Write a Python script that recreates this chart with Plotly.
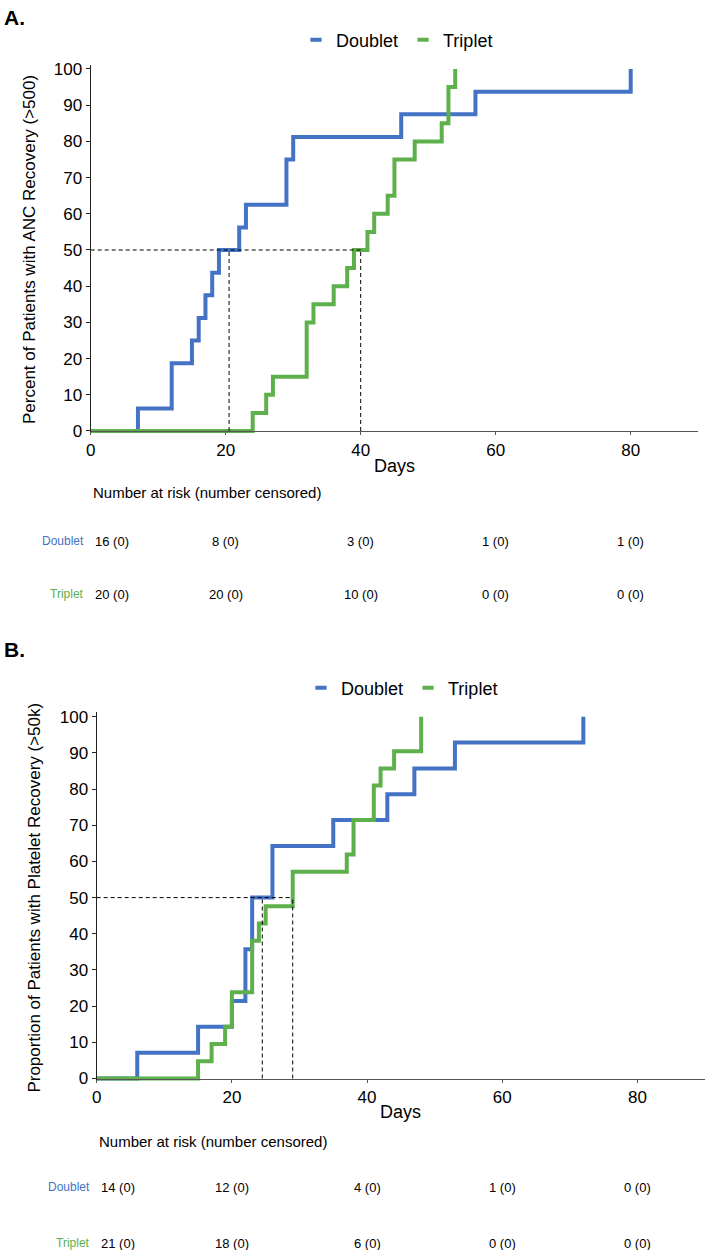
import plotly.graph_objects as go

# ---------------- data ----------------
groups = ["Doublet", "Triplet"]
colors = {"Doublet": "#4472C4", "Triplet": "#5DB04C"}

# Panel A: ANC recovery (cumulative % recovered)
a_doublet_days = [0, 7, 12, 15, 16, 17, 18, 19, 22, 23, 29, 30, 46, 57, 80]
a_doublet_pct = [0, 6.25, 18.75, 25, 31.25, 37.5, 43.75, 50, 56.25, 62.5, 75, 81.25, 87.5, 93.75, 100]
a_triplet_days = [0, 24, 26, 27, 32, 33, 36, 38, 39, 41, 42, 44, 45, 48, 52, 53, 54]
a_triplet_pct = [0, 5, 10, 15, 30, 35, 40, 45, 50, 55, 60, 65, 75, 80, 85, 95, 100]
a_medians = [20.5, 40]

# Panel B: platelet recovery
b_doublet_days = [0, 6, 15, 20, 22, 23, 26, 35, 43, 47, 53, 72]
b_doublet_pct = [0, 7.14, 14.29, 21.43, 35.71, 50, 64.29, 71.43, 78.57, 85.71, 92.86, 100]
b_triplet_days = [0, 15, 17, 19, 20, 23, 24, 25, 29, 37, 38, 41, 42, 44, 48]
b_triplet_pct = [0, 4.76, 9.52, 14.29, 23.81, 38.10, 42.86, 47.62, 57.14, 61.90, 71.43, 80.95, 85.71, 90.48, 100]
b_medians = [24.5, 29]

risk_times = [0, 20, 40, 60, 80]
a_risk_doublet = ["16 (0)", "8 (0)", "3 (0)", "1 (0)", "1 (0)"]
a_risk_triplet = ["20 (0)", "20 (0)", "10 (0)", "0 (0)", "0 (0)"]
b_risk_doublet = ["14 (0)", "12 (0)", "4 (0)", "1 (0)", "0 (0)"]
b_risk_triplet = ["21 (0)", "18 (0)", "6 (0)", "0 (0)", "0 (0)"]

x_ticks = [0, 20, 40, 60, 80]
y_ticks = list(range(0, 101, 10))

# ---------------- layout geometry (pixels) ----------------
W, H = 705, 1250
FONT = "Liberation Sans, Arial, Helvetica, sans-serif"


def py(px):
    return 1 - px / H


YLO, YHI = -1.2, 101.2


def ydomain(px0, px100):
    unit = (px0 - px100) / 100.0
    return [py(px0 - YLO * unit), py(px100 - (YHI - 100) * unit)]


panels = [
    dict(x0=90.7, x1=698.2, px0=431.0, px100=69.0, days_y=466, risk_title_y=493,
         row_y={"Doublet": 541, "Triplet": 594}, label="A.", label_y=18,
         ytitle="Percent of Patients with ANC Recovery (>500)", ytitle_x=30,
         legend_x=397, legend_y=40,
         curves={"Doublet": (a_doublet_days, a_doublet_pct), "Triplet": (a_triplet_days, a_triplet_pct)},
         medians=a_medians,
         risk={"Doublet": a_risk_doublet, "Triplet": a_risk_triplet}, rowlab_x=86),
    dict(x0=96.7, x1=705.0, px0=1078.5, px100=716.7, days_y=1112, risk_title_y=1141,
         row_y={"Doublet": 1187, "Triplet": 1243}, label="B.", label_y=649,
         ytitle="Proportion of Patients with Platelet Recovery (>50k)", ytitle_x=35,
         legend_x=402, legend_y=688,
         curves={"Doublet": (b_doublet_days, b_doublet_pct), "Triplet": (b_triplet_days, b_triplet_pct)},
         medians=b_medians,
         risk={"Doublet": b_risk_doublet, "Triplet": b_risk_triplet}, rowlab_x=92),
]

fig = go.Figure()
annotations = []
layout_axes = {}
DASH = "4px,3px"

for i, p in enumerate(panels):
    sfx = "" if i == 0 else str(i + 1)
    xa, ya = "x" + sfx, "y" + sfx
    leg = "legend" + sfx

    # step curves
    for g in groups:
        days, pct = p["curves"][g]
        fig.add_trace(go.Scatter(
            x=days, y=pct, mode="lines", line=dict(shape="hv", color=colors[g], width=4),
            name=g, xaxis=xa, yaxis=ya, showlegend=False, hoverinfo="skip"))

    # legend keys (short thick dashes)
    for g in groups:
        fig.add_trace(go.Scatter(
            x=[None], y=[None], mode="markers", name=g,
            marker=dict(symbol="line-ew", size=8, color=colors[g],
                        line=dict(color=colors[g], width=4)),
            xaxis=xa, yaxis=ya, legend=leg, showlegend=True, hoverinfo="skip"))

    # median reference lines
    med = p["medians"]
    fig.add_trace(go.Scatter(
        x=[0, max(med)], y=[50, 50], mode="lines",
        line=dict(color="black", width=1, dash=DASH),
        xaxis=xa, yaxis=ya, showlegend=False, hoverinfo="skip"))
    for m in med:
        fig.add_trace(go.Scatter(
            x=[m, m], y=[0, 50], mode="lines",
            line=dict(color="black", width=1, dash=DASH),
            xaxis=xa, yaxis=ya, showlegend=False, hoverinfo="skip"))

    layout_axes["xaxis" + sfx] = dict(
        domain=[p["x0"] / W, p["x1"] / W], range=[0, 90], tickvals=x_ticks,
        ticks="outside", ticklen=3, tickcolor="#555", showline=True, linecolor="#555",
        linewidth=1.2, showgrid=False, zeroline=False, anchor="free", position=py(p["px0"]),
        automargin=False,
        tickfont=dict(size=17, color="black", family=FONT), fixedrange=True)
    layout_axes["yaxis" + sfx] = dict(
        domain=ydomain(p["px0"], p["px100"]), range=[YLO, YHI], tickvals=y_ticks,
        ticks="outside", ticklen=4, tickcolor="#222", showline=True, linecolor="#222",
        linewidth=1.2, showgrid=False, zeroline=False, anchor=xa, automargin=False,
        tickfont=dict(size=17, color="black", family=FONT), fixedrange=True)
    layout_axes[leg] = dict(
        orientation="h", x=p["legend_x"] / W, xanchor="center", y=py(p["legend_y"]),
        yanchor="middle", font=dict(size=18, color="black", family=FONT),
        bgcolor="rgba(0,0,0,0)", itemwidth=30, tracegroupgap=0, itemsizing="trace")

    # panel label
    annotations.append(dict(text="<b>" + p["label"] + "</b>", x=2 / W, y=py(p["label_y"]),
                            xref="paper", yref="paper", xanchor="left", yanchor="middle",
                            showarrow=False, font=dict(size=21, color="black", family=FONT)))
    # y title
    annotations.append(dict(text=p["ytitle"], x=p["ytitle_x"] / W,
                            y=py((p["px0"] + p["px100"]) / 2), xref="paper", yref="paper",
                            textangle=-90, xanchor="center", yanchor="middle", showarrow=False,
                            font=dict(size=17, color="black", family=FONT)))
    # x title
    annotations.append(dict(text="Days", x=45, y=py(p["days_y"]), xref=xa, yref="paper",
                            xanchor="center", yanchor="middle", showarrow=False,
                            font=dict(size=18, color="black", family=FONT)))
    # risk table title
    annotations.append(dict(text="Number at risk (number censored)", x=0, y=py(p["risk_title_y"]),
                            xref=xa, yref="paper", xanchor="left", yanchor="middle",
                            showarrow=False, font=dict(size=15, color="black", family=FONT)))
    for g in groups:
        yy = py(p["row_y"][g])
        annotations.append(dict(text=g, x=p["rowlab_x"] / W, y=yy, xref="paper", yref="paper",
                                xanchor="right", yanchor="middle", showarrow=False,
                                font=dict(size=12, color=colors[g], family=FONT)))
        for t, txt in zip(risk_times, p["risk"][g]):
            annotations.append(dict(text=txt, x=t + (0.4 if t == 0 else 0), y=yy, xref=xa, yref="paper",
                                    xanchor="left" if t == 0 else "center", yanchor="middle",
                                    showarrow=False, font=dict(size=13, color="black", family=FONT)))

fig.update_layout(
    width=W, height=H, margin=dict(l=0, r=0, t=0, b=0, autoexpand=False),
    paper_bgcolor="white", plot_bgcolor="white",
    font=dict(family=FONT, color="black"),
    annotations=annotations, **layout_axes)

fig.write_html("out.html", config={"displayModeBar": False},
               post_script="document.body.style.margin='0';")
